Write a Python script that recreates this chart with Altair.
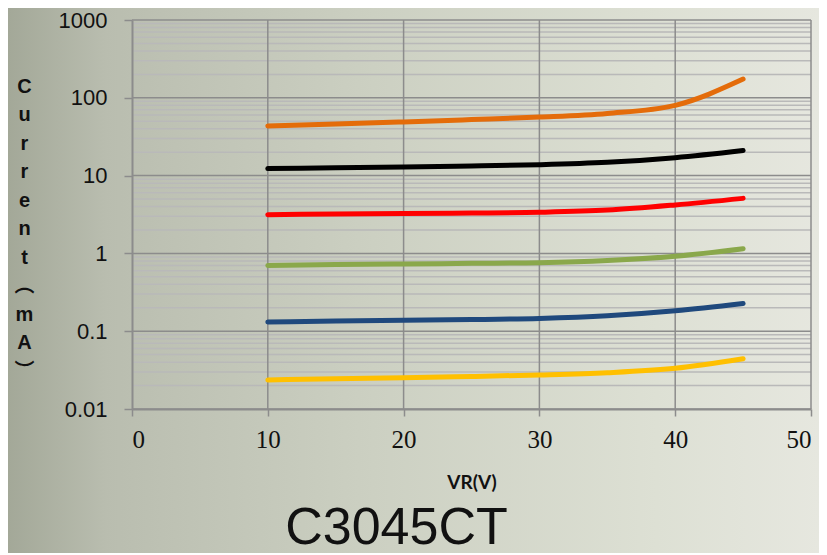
import altair as alt
import pandas as pd

# ---- data ----
vr = [10, 15, 20, 25, 30, 35, 40, 45]
orange = [43.5, 46, 49, 52.5, 56.5, 63, 80, 174]
black = [12.3, 12.6, 12.9, 13.3, 13.8, 14.8, 17.0, 21.0]
red = [3.15, 3.2, 3.25, 3.3, 3.38, 3.6, 4.2, 5.1]
green = [0.70, 0.72, 0.73, 0.745, 0.76, 0.81, 0.92, 1.15]
blue = [0.131, 0.135, 0.138, 0.141, 0.146, 0.158, 0.183, 0.227]
yellow = [0.0236, 0.0245, 0.0252, 0.0262, 0.0274, 0.0293, 0.0334, 0.0443]

series_names = ["Series 1", "Series 2", "Series 3", "Series 4", "Series 5", "Series 6"]
series_colors = ["#E46C0A", "#000000", "#FF0000", "#8AA84B", "#1F497D", "#FFC000"]
series_values = [orange, black, red, green, blue, yellow]

x_ticks = [0, 10, 20, 30, 40, 50]
grid_x = [10, 20, 30, 40, 50]
major_y = [0.01, 0.1, 1, 10, 100, 1000]
minor_y = [d * 10.0 ** e for e in range(-2, 3) for d in range(2, 10)]

rows = []
for name, vals in zip(series_names, series_values):
    for xv, yv in zip(vr, vals):
        rows.append({"series": name, "VR": xv, "I": yv})
df = pd.DataFrame(rows)

W, H = 679, 389
PL, PT, PR, PB = 124, 12, 8, 144

xscale = alt.Scale(domain=[0, 50], nice=False, zero=False)
yscale = alt.Scale(type="log", domain=[0.01, 1000], nice=False)

y_title = ["C", "u", "r", "r", "e", "n", "t", "\ufe35", "m", "A", "\ufe36"]

x_axis = alt.Axis(
    values=x_ticks,
    title="VR(V)",
    grid=False,
    zindex=1,
    domainColor="#8c8c8c",
    domainWidth=2,
    tickColor="#8c8c8c",
    tickWidth=1.5,
    tickSize=7,
    labelFont="Liberation Serif",
    labelFontSize=25,
    labelColor="#111111",
    labelPadding=11,
    titleFont="Lato",
    titleFontWeight="bold",
    titleFontSize=19,
    titleColor="#111111",
    titlePadding=21,
)

y_axis = alt.Axis(
    values=major_y,
    labelExpr="datum.value >= 1 ? format(datum.value, 'd') : format(datum.value, '.2~f')",
    grid=False,
    zindex=1,
    domainColor="#8c8c8c",
    domainWidth=2,
    tickColor="#8c8c8c",
    tickWidth=1.5,
    tickSize=8,
    labelFont="Liberation Sans",
    labelFontSize=22,
    labelColor="#111111",
    labelPadding=17,
    title=y_title,
    titleAngle=0,
    titleAlign="center",
    titleBaseline="top",
    titleX=-108,
    titleY=56,
    titleFont="Liberation Sans, Noto Sans CJK SC",
    titleFontWeight="bold",
    titleFontSize=20,
    titleLineHeight=28.5,
    titleColor="#111111",
)

grad = alt.LinearGradient(
    gradient="linear",
    stops=[
        alt.GradientStop(offset=0, color="#a3a898"),
        alt.GradientStop(offset=0.12, color="#b9bdaf"),
        alt.GradientStop(offset=0.45, color="#ccd0c2"),
        alt.GradientStop(offset=0.8, color="#dde0d4"),
        alt.GradientStop(offset=1, color="#e6e7df"),
    ],
    x1=0, x2=1, y1=0, y2=0,
)

bg = alt.Chart(pd.DataFrame({"a": [0]})).mark_rect(color=grad).encode(
    x=alt.value(-PL), x2=alt.value(W + PR), y=alt.value(-PT), y2=alt.value(H + PB)
)

minor_rules = alt.Chart(pd.DataFrame({"I": minor_y})).mark_rule(
    color="#b9b9b9", strokeWidth=1.5
).encode(y=alt.Y("I:Q", scale=yscale, axis=y_axis))

major_rules = alt.Chart(pd.DataFrame({"I": major_y})).mark_rule(
    color="#8c8c8c", strokeWidth=1.5
).encode(y=alt.Y("I:Q", scale=yscale, axis=y_axis))

vert_rules = alt.Chart(pd.DataFrame({"VR": grid_x})).mark_rule(
    color="#8c8c8c", strokeWidth=1.5
).encode(x=alt.X("VR:Q", scale=xscale, axis=x_axis))

lines = alt.Chart(df).mark_line(
    strokeWidth=5, strokeCap="round", interpolate="monotone"
).encode(
    x=alt.X("VR:Q", scale=xscale, axis=x_axis),
    y=alt.Y("I:Q", scale=yscale, axis=y_axis),
    color=alt.Color(
        "series:N",
        scale=alt.Scale(domain=series_names, range=series_colors),
        legend=None,
    ),
    detail="series:N",
)

chart = (
    alt.layer(bg, minor_rules, major_rules, vert_rules, lines)
    .properties(
        width=W,
        height=H,
        padding={"left": PL, "top": PT, "right": PR, "bottom": PB},
        autosize=alt.AutoSizeParams(type="none"),
        title=alt.TitleParams(
            "C3045CT",
            orient="bottom",
            anchor="middle",
            dx=-75,
            offset=-50,
            baseline="top",
            font="Liberation Sans",
            fontSize=52,
            fontWeight="normal",
            color="#111111",
        ),
    )
    .configure_view(stroke=None)
    .configure(background="#d0d3c6")
)

chart.save("out.html", embed_options={"renderer": "svg", "actions": False})
